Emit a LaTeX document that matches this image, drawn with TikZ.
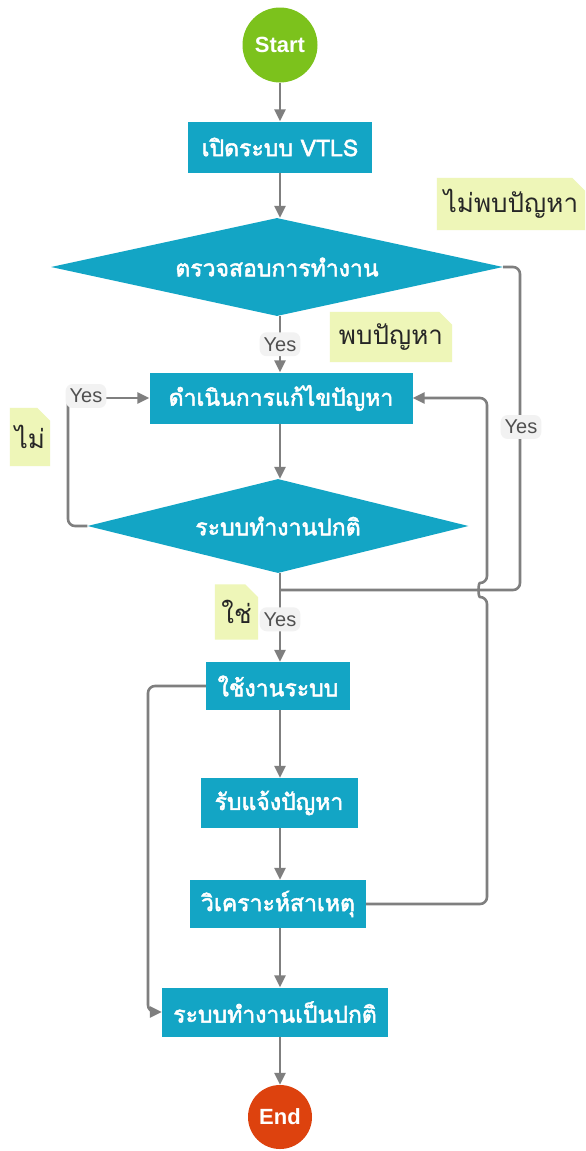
\documentclass[tikz,border=0pt]{standalone}
\usepackage{fontspec}
\setmainfont{Liberation Sans}
\newfontfamily\thaifont[Script=Thai]{Loma}
\newfontfamily\thaibold[Script=Thai,FakeBold=2.2]{Loma}
\usetikzlibrary{shapes.geometric,arrows.meta,backgrounds}
\definecolor{boxc}{HTML}{13A5C5}
\definecolor{linec}{HTML}{7F7F7F}
\definecolor{notec}{HTML}{EEF6B8}
\definecolor{startc}{HTML}{7CC21C}
\definecolor{endc}{HTML}{DD420E}
\definecolor{yesbg}{HTML}{F2F2F2}
\definecolor{yestext}{HTML}{505050}
\tikzset{
  procbox/.style={rectangle, fill=boxc, text=white, inner sep=0pt,
    font=\thaibold\fontsize{23}{25}\selectfont},
  decide/.style={diamond, fill=boxc, text=white, inner sep=0pt, aspect=4.5,
    font=\thaibold\fontsize{23}{25}\selectfont},
  term/.style={circle, text=white, inner sep=0pt,
    font=\bfseries\fontsize{22}{24}\selectfont},
  notebox/.style={rectangle, inner sep=0pt, text=black!85,
    font=\thaifont\fontsize{26}{28}\selectfont},
  yeslab/.style={rectangle, rounded corners=7pt, fill=yesbg, text=yestext,
    inner xsep=4pt, inner ysep=5pt, font=\fontsize{20}{22}\selectfont},
  arr/.style={draw=linec, line width=2.6pt, -{Triangle[length=12pt,width=11pt]}},
  conn/.style={draw=linec, line width=2.6pt},
}
\newcommand{\notefill}[1]{%
  \fill[notec] (#1.south west) -- (#1.north west) -- ([xshift=-13pt]#1.north east)
    -- ([yshift=-13pt]#1.north east) -- (#1.south east) -- cycle;}
\begin{document}
\begin{tikzpicture}[x=1pt,y=-1pt]
\useasboundingbox (0,0) rectangle (586,1151);

% terminals and steps
\node[term, fill=startc, minimum size=75pt] (start) at (280,45) {Start};
\node[procbox, minimum width=184pt, minimum height=51pt] (b1) at (280,147) {เปิดระบบ VTLS};
\node[decide, minimum width=452pt, minimum height=98pt] (d1) at (277,267) {ตรวจสอบการทำงาน};
\node[procbox, minimum width=263pt, minimum height=51pt] (b2) at (281,398) {ดำเนินการแก้ไขปัญหา};
\node[decide, minimum width=381pt, minimum height=94pt] (d2) at (278,526) {ระบบทำงานปกติ};
\node[procbox, minimum width=144pt, minimum height=48pt] (b3) at (278,686) {ใช้งานระบบ};
\node[procbox, minimum width=157pt, minimum height=50pt] (b4) at (279,803) {รับแจ้งปัญหา};
\node[procbox, minimum width=176pt, minimum height=48pt] (b5) at (278,904) {วิเคราะห์สาเหตุ};
\node[procbox, minimum width=226pt, minimum height=49pt] (b6) at (275,1012) {ระบบทำงานเป็นปกติ};
\node[term, fill=endc, minimum size=64pt] (end) at (280,1117) {End};

% notes
\node[notebox, minimum width=148pt, minimum height=52pt] (n1) at (511,204) {ไม่พบปัญหา};
\node[notebox, minimum width=122pt, minimum height=50pt] (n2) at (391,337) {พบปัญหา};
\node[notebox, minimum width=40pt, minimum height=58pt] (n3) at (30,437) {ไม่};
\node[notebox, minimum width=43pt, minimum height=55pt] (n4) at (236.5,612) {ใช่};
\begin{pgfonlayer}{background}
  \fill[white] (0,0) rectangle (586,1151);
  \notefill{n1}
  \notefill{n2}
  \notefill{n3}
  \notefill{n4}
\end{pgfonlayer}

\coordinate (merge) at (280,590);
\coordinate (hopA) at (487,597);
\coordinate (hopB) at (487,583);

% main flow (trunk at x=280)
\draw[arr] (start) -- (start |- b1.north);
\draw[arr] (b1.south -| start) -- (start |- d1.north);
\draw[arr] (start |- d1.south) -- (start |- b2.north) node[yeslab, pos=0.5] (y1) {Yes};
\draw[arr] (start |- b2.south) -- (start |- d2.north);
\draw[arr] (start |- d2.south) -- (start |- b3.north) node[yeslab, pos=0.52] (y4) {Yes};
\draw[arr] (start |- b3.south) -- (start |- b4.north);
\draw[arr] (start |- b4.south) -- (start |- b5.north);
\draw[arr] (start |- b5.south) -- (start |- b6.north);
\draw[arr] (start |- b6.south) -- (end);

% not found problem: right loop into main line
\draw[conn, rounded corners=7pt] (d1.east) -- (520,267) -- (520,590) -- (merge);
\node[yeslab] (y3) at (521,427) {Yes};

% left loop from decision 2 back to fixing
\draw[conn, rounded corners=7pt] (d2.west) -- (68,526) -- (68,398);
\draw[arr] (68,398) -- (b2.west);
\node[yeslab] (y2) at (86,396) {Yes};

% analyse cause back to fixing, hopping over the line at y=590
\draw[arr, rounded corners=7pt] (b5.east) -- (487,904) -- (hopA)
  .. controls (478,597) and (478,583) .. (hopB) -- (487,398) -- (b2.east);

% use system skips to normal
\draw[arr, rounded corners=7pt] (b3.west) -- (148,686) -- (148,1012) -- (b6.west);
\end{tikzpicture}
\end{document}
